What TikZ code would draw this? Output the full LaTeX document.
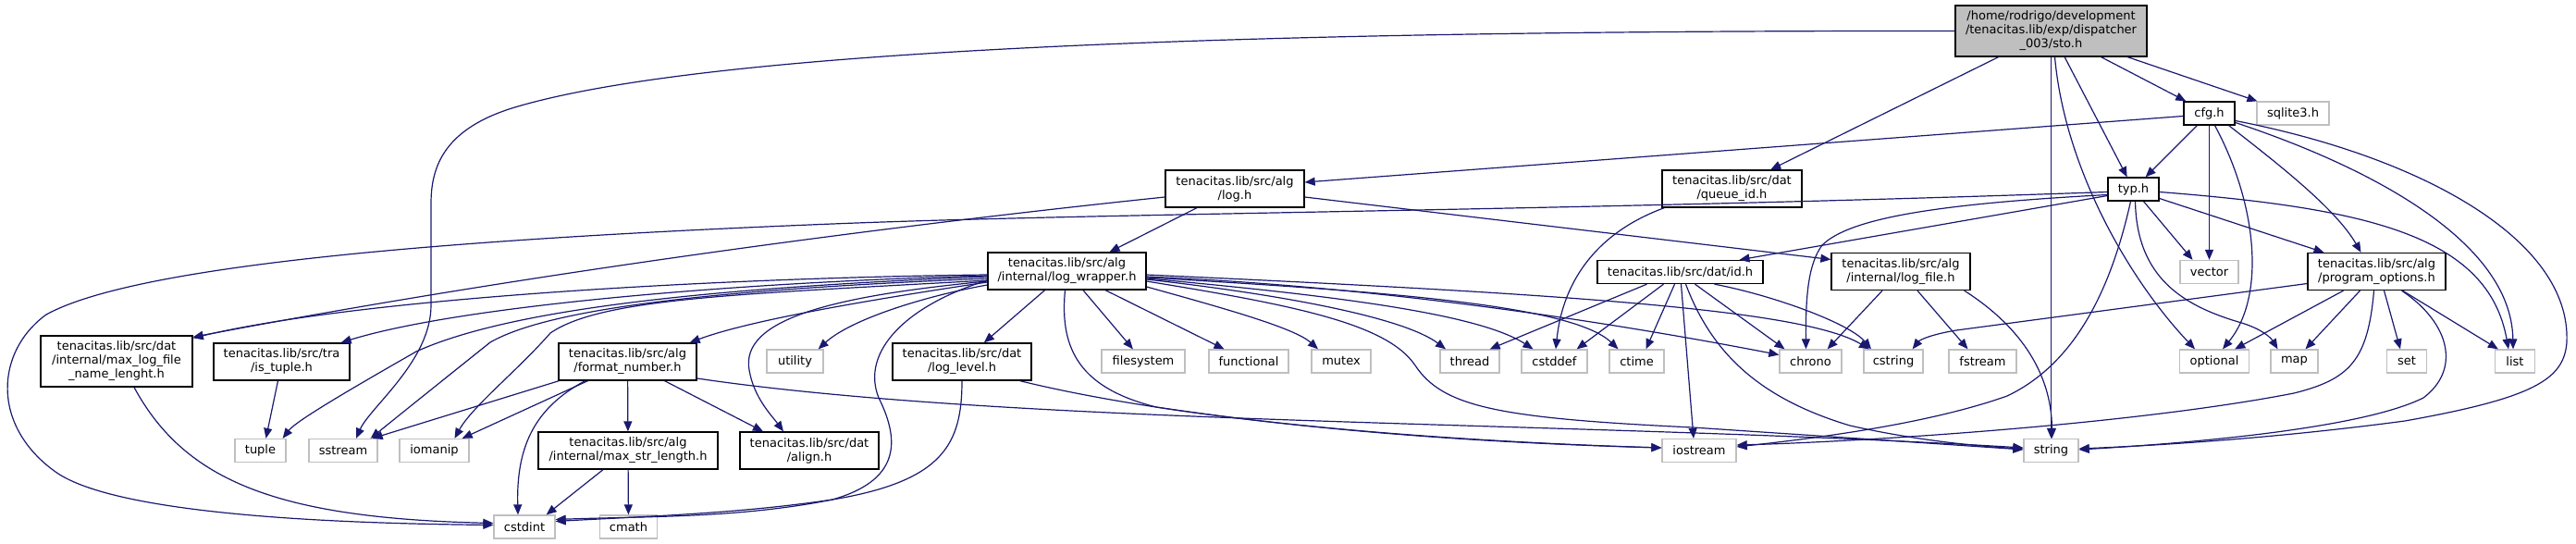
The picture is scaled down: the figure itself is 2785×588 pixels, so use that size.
\documentclass[tikz,border=0pt]{standalone}
\usepackage{fontspec}
\setmainfont{DejaVu Sans}
\usetikzlibrary{arrows.meta,calc}
\definecolor{edgeblue}{RGB}{25,25,112}
\definecolor{greyseventyfive}{RGB}{191,191,191}
\begin{document}
\begin{tikzpicture}[x=1pt,y=-1pt,
  fnode/.style={draw=black, fill=white, line width=1.3pt, inner sep=0pt, align=center,
    font=\fontsize{13pt}{15pt}\selectfont, minimum height=25pt},
  extnode/.style={fnode, draw=greyseventyfive},
  rootnode/.style={fnode, fill=greyseventyfive},
  dep/.style={draw=edgeblue, line width=1.2pt, -{Triangle[length=11pt,width=9pt]}}]
\useasboundingbox (0,0) rectangle (2785,588);

% nodes
\node[rootnode, minimum width=207pt, minimum height=55pt] (sto) at (2217.5,33.5) {/home/rodrigo/development\\/tenacitas.lib/exp/dispatcher\\\_003/sto.h};
\node[fnode, minimum width=55pt] (cfg) at (2388.5,122.5) {cfg.h};
\node[extnode, minimum width=78pt] (sqlite) at (2479,122.5) {sqlite3.h};
\node[fnode, minimum width=150pt, minimum height=40pt] (log) at (1335,204) {tenacitas.lib/src/alg\\/log.h};
\node[fnode, minimum width=151pt, minimum height=40pt] (queueid) at (1872.5,204) {tenacitas.lib/src/dat\\/queue\_id.h};
\node[fnode, minimum width=55pt] (typ) at (2306.5,204.5) {typ.h};
\node[fnode, minimum width=171pt, minimum height=40pt] (logwrapper) at (1153.5,293) {tenacitas.lib/src/alg\\/internal/log\_wrapper.h};
\node[fnode, minimum width=179pt] (id) at (1816.5,294) {tenacitas.lib/src/dat/id.h};
\node[fnode, minimum width=150pt, minimum height=40pt] (logfile) at (2055,293.5) {tenacitas.lib/src/alg\\/internal/log\_file.h};
\node[extnode, minimum width=63pt] (vector) at (2388.5,294) {vector};
\node[fnode, minimum width=149pt, minimum height=40pt] (progopt) at (2569.5,293.5) {tenacitas.lib/src/alg\\/program\_options.h};
\node[fnode, minimum width=164pt, minimum height=55pt] (maxlog) at (126,390.5) {tenacitas.lib/src/dat\\/internal/max\_log\_file\\\_name\_lenght.h};
\node[fnode, minimum width=147pt, minimum height=40pt] (istuple) at (304.5,391) {tenacitas.lib/src/tra\\/is\_tuple.h};
\node[fnode, minimum width=149pt, minimum height=40pt] (fmtnum) at (678.5,391) {tenacitas.lib/src/alg\\/format\_number.h};
\node[extnode, minimum width=61pt] (utility) at (859.5,390.5) {utility};
\node[fnode, minimum width=150pt, minimum height=40pt] (loglevel) at (1040,391) {tenacitas.lib/src/dat\\/log\_level.h};
\node[extnode, minimum width=90pt] (filesystem) at (1236,390.5) {filesystem};
\node[extnode, minimum width=86pt] (functional) at (1350,390.5) {functional};
\node[extnode, minimum width=64pt] (mutex) at (1450,390.5) {mutex};
\node[extnode, minimum width=64pt] (thread) at (1589,390.5) {thread};
\node[extnode, minimum width=71pt] (cstddef) at (1680.5,390.5) {cstddef};
\node[extnode, minimum width=59pt] (ctime) at (1769.5,390.5) {ctime};
\node[extnode, minimum width=67pt] (chrono) at (1957.5,390.5) {chrono};
\node[extnode, minimum width=64pt] (cstring) at (2047,390.5) {cstring};
\node[extnode, minimum width=73pt] (fstream) at (2143.5,390.5) {fstream};
\node[extnode, minimum width=75pt] (optional) at (2394,390.5) {optional};
\node[extnode, minimum width=51pt] (map) at (2480.5,390.5) {map};
\node[extnode, minimum width=43pt] (set) at (2602,390.5) {set};
\node[extnode, minimum width=43pt] (list) at (2719,390.5) {list};
\node[extnode, minimum width=55pt] (tuple) at (281.5,487) {tuple};
\node[extnode, minimum width=74pt] (sstream) at (371,487) {sstream};
\node[extnode, minimum width=75pt] (iomanip) at (469.5,487) {iomanip};
\node[fnode, minimum width=194pt, minimum height=40pt] (maxstr) at (679,487) {tenacitas.lib/src/alg\\/internal/max\_str\_length.h};
\node[fnode, minimum width=150pt, minimum height=40pt] (align) at (875,487) {tenacitas.lib/src/dat\\/align.h};
\node[extnode, minimum width=80pt] (iostream) at (1837,487) {iostream};
\node[extnode, minimum width=59pt] (string) at (2217.5,487) {string};
\node[extnode, minimum width=66pt] (cstdint) at (567,569.5) {cstdint};
\node[extnode, minimum width=62pt] (cmath) at (679.5,569.5) {cmath};

% sto.h
\draw[dep] (sto) -- (cfg);
\draw[dep] (sto) -- (sqlite);
\draw[dep] (sto) -- (typ);
\draw[dep] (sto) -- (string);
\draw[dep] ($(sto.south)+(4,0)$) .. controls (2232,180) and (2300,300) .. ($(optional.north)+(-21,0)$);
\draw[dep] (sto) -- (queueid);
\draw[dep] (sto.west) .. controls (1500,33) and (800,45) .. (560,115) .. controls (480,138) and (466,180) .. (466,220) -- (466,330) .. controls (466,390) and (400,440) .. ($(sstream.north)+(14,0)$);

% cfg.h
\draw[dep] ($(cfg.west)+(0,3)$) -- ($(log.east)+(0,-7)$);
\draw[dep] (cfg) -- (typ);
\draw[dep] (cfg) -- (vector);
\draw[dep] ($(cfg.south)+(6,0)$) .. controls (2440,220) and (2450,320) .. ($(optional.north)+(9,0)$);
\draw[dep] ($(cfg.south east)+(-7,0)$) .. controls (2460,175) and (2525,225) .. ($(progopt.north)+(-17,0)$);
\draw[dep] ($(cfg.east)+(0,10)$) .. controls (2560,180) and (2715,260) .. ($(list.north)+(-2,0)$);
\draw[dep] ($(cfg.east)+(0,8)$) .. controls (2620,170) and (2780,260) .. (2775,370) .. controls (2772,410) and (2740,430) .. (2600,455) .. controls (2450,475) and (2320,482) .. ($(string.east)+(0,-2)$);

% typ.h
\draw[dep] ($(typ.west)+(0,7)$) -- ($(id.north)+(64,0)$);
\draw[dep] ($(typ.south)+(11,0)$) -- ($(vector.north)+(-18,0)$);
\draw[dep] ($(typ.east)+(0,10)$) -- ($(progopt.north)+(-57,0)$);
\draw[dep] ($(typ.east)+(0,3)$) .. controls (2560,225) and (2690,255) .. ($(list.north)+(-7,0)$);
\draw[dep] ($(typ.west)+(0,6)$) .. controls (2100,220) and (2000,235) .. (1970,265) .. controls (1955,285) and (1952,320) .. ($(chrono.north)+(-5,0)$);
\draw[dep] ($(typ.south)+(-3,0)$) .. controls (2285,300) and (2250,390) .. (2170,428) .. controls (2080,460) and (1950,475) .. ($(iostream.east)+(0,-4)$);
\draw[dep] ($(typ.south)+(2,0)$) .. controls (2310,300) and (2360,330) .. (2420,348) .. controls (2445,355) and (2455,365) .. ($(map.north)+(-18,0)$);
\draw[dep] ($(typ.west)+(0,3)$) .. controls (1700,228) and (1200,230) .. (900,242) .. controls (500,258) and (150,285) .. (50,340) .. controls (-5,380) and (-10,460) .. (60,510) .. controls (130,560) and (400,566) .. ($(cstdint.west)+(0,-2)$);

% queue_id.h
\draw[dep] ($(queueid.south west)+(3,0)$) .. controls (1730,250) and (1690,300) .. ($(cstddef.north)+(1.5,0)$);

% log.h
\draw[dep] ($(log.south)+(-41,0)$) -- ($(logwrapper.north)+(46,0)$);
\draw[dep] ($(log.east)+(0,9)$) -- ($(logfile.west)+(0,-13)$);
\draw[dep] ($(log.west)+(0,9)$) .. controls (1000,240) and (600,290) .. ($(maxlog.north east)+(0,2)$);

% log_wrapper.h
\draw[dep] ($(logwrapper.west)+(0,4)$) .. controls (800,300) and (400,320) .. ($(maxlog.north east)+(0,3)$);
\draw[dep] ($(logwrapper.west)+(0,5)$) .. controls (800,305) and (500,330) .. ($(istuple.north east)+(-10,0)$);
\draw[dep] ($(logwrapper.west)+(0,6)$) .. controls (800,310) and (560,330) .. (450,380) .. controls (380,420) and (320,455) .. ($(tuple.north east)+(-4,0)$);
\draw[dep] ($(logwrapper.west)+(0,8)$) .. controls (800,312) and (600,330) .. (530,370) .. controls (480,410) and (430,450) .. ($(sstream.north east)+(-8,0)$);
\draw[dep] ($(logwrapper.west)+(0,10)$) .. controls (800,318) and (650,322) .. (595,360) .. controls (560,400) and (510,440) .. ($(iomanip.north)+(22,0)$);
\draw[dep] ($(logwrapper.west)+(0,12)$) .. controls (900,330) and (800,350) .. ($(fmtnum.north east)+(-8,0)$);
\draw[dep] ($(logwrapper.west)+(0,15)$) .. controls (1000,320) and (920,345) .. ($(utility.north east)+(-6,0)$);
\draw[dep] ($(logwrapper.west)+(0,11)$) .. controls (900,320) and (800,345) .. (810,400) .. controls (815,430) and (835,450) .. ($(align.north)+(-28,0)$);
\draw[dep] ($(logwrapper.west)+(0,10)$) .. controls (980,330) and (930,380) .. (950,430) .. controls (975,480) and (970,520) .. (900,540) .. controls (800,560) and (700,558) .. ($(cstdint.east)+(0,-8)$);
\draw[dep] (logwrapper) -- (loglevel);
\draw[dep] (logwrapper) -- (filesystem);
\draw[dep] (logwrapper) -- (functional);
\draw[dep] ($(logwrapper.east)+(0,17)$) .. controls (1330,335) and (1400,355) .. ($(mutex.north)+(-25,0)$);
\draw[dep] ($(logwrapper.east)+(0,9)$) .. controls (1400,320) and (1520,345) .. ($(thread.north)+(-26,0)$);
\draw[dep] ($(logwrapper.east)+(0,8)$) .. controls (1450,320) and (1600,340) .. ($(cstddef.north)+(-23,0)$);
\draw[dep] ($(logwrapper.east)+(0,7)$) .. controls (1500,315) and (1700,330) .. ($(ctime.north)+(-20,0)$);
\draw[dep] ($(logwrapper.east)+(0,6)$) .. controls (1500,310) and (1750,350) .. ($(chrono.west)+(0,-7)$);
\draw[dep] ($(logwrapper.east)+(0,4)$) .. controls (1700,318) and (1950,335) .. ($(cstring.north)+(-26,0)$);
\draw[dep] ($(logwrapper.east)+(0,11)$) .. controls (1400,330) and (1500,350) .. (1530,395) .. controls (1560,440) and (1620,452) .. (1830,462) .. controls (1950,470) and (2100,480) .. ($(string.west)+(0,-1)$);
\draw[dep] ($(logwrapper.south)+(-2,0)$) .. controls (1145,380) and (1170,420) .. (1250,440) .. controls (1450,470) and (1650,480) .. ($(iostream.west)+(0,-3)$);

% format_number.h
\draw[dep] ($(fmtnum.south west)+(1,0)$) -- ($(sstream.north east)+(-6,0)$);
\draw[dep] ($(fmtnum.south)+(-43,0)$) -- ($(iomanip.north east)+(-8,0)$);
\draw[dep] ($(fmtnum.south)+(-46,0)$) .. controls (580,440) and (558,480) .. ($(cstdint.north)+(-7,0)$);
\draw[dep] (fmtnum) -- (maxstr);
\draw[dep] ($(fmtnum.south)+(40,0)$) -- ($(align.north)+(-50,0)$);
\draw[dep] ($(fmtnum.east)+(0,18)$) .. controls (1100,460) and (1700,455) .. ($(string.west)+(0,-3)$);

% max_str_length.h
\draw[dep] ($(maxstr.south)+(-27,0)$) -- ($(cstdint.north east)+(-10,0)$);
\draw[dep] (maxstr) -- (cmath);

% max_log_file_name_lenght.h, is_tuple.h, log_level.h
\draw[dep] ($(maxlog.south)+(19,0)$) .. controls (200,520) and (300,560) .. ($(cstdint.west)+(0,-4)$);
\draw[dep] ($(istuple.south)+(-4,0)$) -- ($(tuple.north)+(6,0)$);
\draw[dep] (loglevel.south) .. controls (1040,480) and (1020,520) .. (900,540) .. controls (800,555) and (700,558) .. ($(cstdint.east)+(0,-6)$);
\draw[dep] ($(loglevel.south east)+(-13,0)$) .. controls (1300,460) and (1600,478) .. ($(iostream.west)+(0,-3)$);

% id.h
\draw[dep] ($(id.south)+(-36,0)$) -- ($(thread.north east)+(-11,0)$);
\draw[dep] ($(id.south)+(-18,0)$) -- ($(cstddef.north east)+(-12,0)$);
\draw[dep] ($(id.south)+(-6,0)$) -- ($(ctime.north)+(10,0)$);
\draw[dep] ($(id.south)+(1,0)$) -- ($(iostream.north)+(-6,0)$);
\draw[dep] ($(id.south)+(16,0)$) -- ($(chrono.north)+(-28,0)$);
\draw[dep] ($(id.south)+(37,0)$) .. controls (1920,320) and (2000,350) .. ($(cstring.north)+(-24,0)$);
\draw[dep] ($(id.south)+(6,0)$) .. controls (1850,380) and (1900,430) .. (2000,460) .. controls (2080,478) and (2150,483) .. ($(string.west)+(0,-2)$);

% log_file.h
\draw[dep] ($(logfile.south)+(-20,0)$) -- ($(chrono.north east)+(-16,0)$);
\draw[dep] ($(logfile.south)+(18,0)$) -- ($(fstream.north)+(-16,0)$);
\draw[dep] ($(logfile.south east)+(-7,0)$) .. controls (2180,350) and (2218,400) .. ($(string.north)+(1,0)$);

% program_options.h
\draw[dep] ($(progopt.west)+(0,13)$) -- (2115,357) .. controls (2085,362) and (2075,368) .. ($(cstring.north east)+(-12,0)$);
\draw[dep] ($(progopt.south)+(-36,0)$) -- ($(optional.north east)+(-16,0)$);
\draw[dep] ($(progopt.south)+(-18,0)$) -- ($(map.north)+(12,0)$);
\draw[dep] ($(progopt.south)+(8,0)$) -- ($(set.north)+(-7,0)$);
\draw[dep] ($(progopt.south)+(28,0)$) -- ($(list.north west)+(4,0)$);
\draw[dep] ($(progopt.south)+(-3,0)$) .. controls (2560,390) and (2540,410) .. (2480,425) .. controls (2300,460) and (2000,478) .. ($(iostream.east)+(0,-6)$);
\draw[dep] ($(progopt.south)+(27,0)$) .. controls (2650,350) and (2660,400) .. (2620,430) .. controls (2550,465) and (2350,480) .. ($(string.east)+(0,-1)$);
\end{tikzpicture}
\end{document}
